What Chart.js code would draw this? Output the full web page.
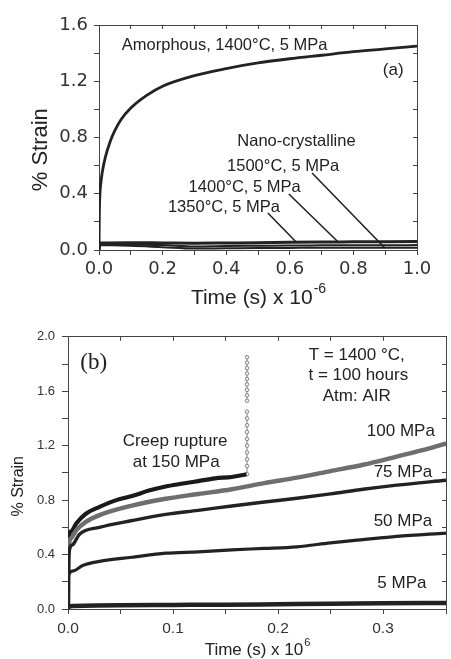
<!DOCTYPE html>
<html><head><meta charset="utf-8">
<script src="https://cdn.jsdelivr.net/npm/chart.js@4.4.1/dist/chart.umd.min.js"></script>
<style>
html,body{margin:0;padding:0;background:#fff;width:451px;height:659px;overflow:hidden}
canvas{position:absolute;left:0}
#c1{top:0}
#c2{top:322px}
</style></head><body>
<canvas id="c1" width="451" height="320"></canvas>
<canvas id="c2" width="451" height="337"></canvas>
<script>
// ---------- Panel (a) data ----------
const aTime      = [0, 0.001, 0.003, 0.006, 0.01, 0.02, 0.035, 0.05, 0.07, 0.1, 0.15, 0.2, 0.3, 0.4, 0.5, 0.6, 0.7, 0.8, 0.9, 1.0];
const aAmorphous = [0, 0.25, 0.40, 0.48, 0.55, 0.66, 0.77, 0.85, 0.93, 1.01, 1.10, 1.165, 1.24, 1.29, 1.33, 1.36, 1.385, 1.41, 1.43, 1.45];
const nTime  = [0, 0.003, 0.1, 0.2, 0.3, 0.4, 0.5, 0.6, 0.7, 0.8, 0.9, 1.0];
const n1500  = [0, 0.05, 0.052, 0.05, 0.048, 0.05, 0.052, 0.055, 0.057, 0.058, 0.059, 0.06];
const n1400  = [0, 0.04, 0.04, 0.035, 0.025, 0.028, 0.03, 0.032, 0.033, 0.034, 0.034, 0.035];
const n1350  = [0, 0.035, 0.03, 0.02, 0.01, 0.012, 0.014, 0.015, 0.016, 0.016, 0.016, 0.016];
// leader lines [x1, y1, x2, y2] in data units
const aLeaders = [[0.670, 0.548, 0.899, 0.014], [0.597, 0.398, 0.752, 0.057], [0.531, 0.263, 0.623, 0.050]];
const aXTicks = [0.0, 0.2, 0.4, 0.6, 0.8, 1.0];
const aYTicks = [0.0, 0.4, 0.8, 1.2, 1.6];

// ---------- Panel (b) data ----------
const t150 = [0, 0.0005, 0.003, 0.008, 0.017, 0.030, 0.046, 0.061, 0.077, 0.093, 0.108, 0.124, 0.140, 0.156, 0.170];
const s150 = [0, 0.50, 0.57, 0.63, 0.70, 0.75, 0.80, 0.83, 0.87, 0.90, 0.92, 0.94, 0.96, 0.97, 0.99];
const tRupture = 0.1705;
const sRupture = [0.99, 1.05, 1.1, 1.15, 1.2, 1.25, 1.3, 1.35, 1.4, 1.45, null, 1.53, 1.57, 1.61, 1.65, 1.69, 1.73, 1.77, 1.81, 1.85];
const t100 = [0, 0.0005, 0.003, 0.008, 0.017, 0.030, 0.061, 0.093, 0.124, 0.156, 0.187, 0.218, 0.250, 0.281, 0.313, 0.344, 0.36];
const s100 = [0, 0.43, 0.52, 0.58, 0.64, 0.69, 0.76, 0.81, 0.845, 0.88, 0.925, 0.965, 1.013, 1.06, 1.12, 1.18, 1.217];
const t75  = [0, 0.0005, 0.004, 0.011, 0.030, 0.061, 0.093, 0.124, 0.156, 0.187, 0.218, 0.250, 0.281, 0.313, 0.36];
const s75  = [0, 0.38, 0.47, 0.55, 0.60, 0.65, 0.695, 0.725, 0.757, 0.786, 0.814, 0.846, 0.88, 0.91, 0.946];
const t50  = [0, 0.0005, 0.005, 0.014, 0.030, 0.061, 0.093, 0.124, 0.156, 0.187, 0.218, 0.250, 0.281, 0.313, 0.36];
const s50  = [0, 0.25, 0.28, 0.32, 0.35, 0.38, 0.41, 0.42, 0.435, 0.445, 0.457, 0.486, 0.51, 0.534, 0.558];
const t5   = [0, 0.001, 0.05, 0.1, 0.15, 0.2, 0.25, 0.3, 0.36];
const s5   = [0, 0.02, 0.028, 0.03, 0.032, 0.035, 0.038, 0.042, 0.045];
const bXTicks = [0.0, 0.1, 0.2, 0.3];
const bYTicks = [0.0, 0.4, 0.8, 1.2, 1.6, 2.0];

// ---------- helpers ----------
const SANS = '"Liberation Sans", Arial, Helvetica, sans-serif';
const SERIF = '"Liberation Serif", "Times New Roman", serif';
const INK = '#222';
const FRAME = '#444';
const pts = (xs, ys) => xs.map((x, i) => ({x, y: ys[i]}));
const isTick = (list) => (v) => list.some(t => Math.abs(t - v) < 1e-6);

const notesPlugin = {
  id: 'notes',
  afterDatasetsDraw(chart, args, opts) {
    const {ctx, scales: {x, y}, chartArea} = chart;
    ctx.save();
    ctx.fillStyle = INK;
    ctx.textAlign = 'center';
    ctx.textBaseline = 'middle';
    for (const n of opts.items) {
      ctx.font = n.font;
      ctx.fillText(n.text, x.getPixelForValue(n.x), y.getPixelForValue(n.y));
    }
    const t = opts.xTitle;
    if (t) {
      ctx.textAlign = 'left';
      ctx.font = t.size + 'px ' + SANS;
      const w1 = ctx.measureText(t.main).width;
      ctx.font = t.supSize + 'px ' + SANS;
      const w2 = ctx.measureText(t.sup).width;
      const cx = (chartArea.left + chartArea.right) / 2 + (t.dx || 0);
      const x0 = cx - (w1 + w2) / 2;
      const yy = chartArea.bottom + t.offset;
      ctx.font = t.size + 'px ' + SANS;
      ctx.fillText(t.main, x0, yy);
      ctx.font = t.supSize + 'px ' + SANS;
      ctx.fillText(t.sup, x0 + w1 + 1, yy - t.rise);
    }
    ctx.restore();
  }
};

function frameAxes(min, max, step, pos, len) {
  return {
    type: 'linear', position: pos, min, max,
    ticks: {display: false, stepSize: step},
    grid: {display: true, drawOnChartArea: false, drawTicks: true, tickLength: -len, color: FRAME},
    border: {display: true, color: FRAME, width: 1},
    afterFit: (s) => { if (pos === 'top') s.height = 0; else s.width = 0; }
  };
}

// ---------- Panel (a) ----------
const lineA = (data, w) => ({data, borderColor: INK, borderWidth: w, pointRadius: 0, cubicInterpolationMode: 'monotone', fill: false});
const dsA = [
  lineA(pts(nTime, n1350), 2),
  lineA(pts(nTime, n1400), 2),
  lineA(pts(nTime, n1500), 3),
  lineA(pts(aTime, aAmorphous), 2.8),
  ...aLeaders.map(l => ({data: [{x: l[0], y: l[1]}, {x: l[2], y: l[3]}], borderColor: INK, borderWidth: 1.6, pointRadius: 0, tension: 0}))
];

new Chart(document.getElementById('c1'), {
  type: 'line',
  data: {datasets: dsA},
  plugins: [notesPlugin],
  options: {
    responsive: false, animation: false, events: [],
    layout: {padding: {top: 25, right: 34, left: 0, bottom: 0}},
    plugins: {
      legend: {display: false}, tooltip: {enabled: false},
      notes: {
        items: [
          {text: 'Amorphous, 1400°C, 5 MPa', x: 0.395, y: 1.458, font: '16.5px ' + SANS},
          {text: '(a)', x: 0.925, y: 1.28, font: '17px ' + SANS},
          {text: 'Nano-crystalline', x: 0.621, y: 0.775, font: '16.5px ' + SANS},
          {text: '1500°C, 5 MPa', x: 0.579, y: 0.597, font: '16.5px ' + SANS},
          {text: '1400°C, 5 MPa', x: 0.458, y: 0.448, font: '16.5px ' + SANS},
          {text: '1350°C, 5 MPa', x: 0.393, y: 0.306, font: '16.5px ' + SANS}
        ],
        xTitle: {main: 'Time (s) x 10', sup: '-6', size: 21, supSize: 14, rise: 9, offset: 48}
      }
    },
    scales: {
      x: {
        type: 'linear', position: 'bottom', min: 0, max: 1,
        ticks: {stepSize: 0.1, autoSkip: false, maxRotation: 0, padding: 4, color: '#333',
          font: {family: '"DejaVu Sans", sans-serif', size: 18},
          callback: (v) => isTick(aXTicks)(v) ? v.toFixed(1) : ''},
        grid: {drawOnChartArea: false, tickLength: 5, color: FRAME},
        border: {color: FRAME, width: 1},
        afterFit: (s) => { s.height = 70; }
      },
      y: {
        type: 'linear', position: 'left', min: 0, max: 1.6,
        ticks: {stepSize: 0.2, autoSkip: false, padding: 6, color: '#333',
          font: {family: '"DejaVu Sans", sans-serif', size: 18},
          callback: (v) => isTick(aYTicks)(v) ? v.toFixed(1) : ''},
        grid: {drawOnChartArea: false, tickLength: 5, color: FRAME},
        border: {color: FRAME, width: 1},
        title: {display: true, text: '% Strain    ', color: INK, font: {family: SANS, size: 22}, padding: {top: 28, bottom: 0}},
        afterFit: (s) => { s.width = 99; }
      },
      x2: frameAxes(0, 1, 0.1, 'top', 4),
      y2: frameAxes(0, 1.6, 0.2, 'right', 4)
    }
  }
});

// ---------- Panel (b) ----------
const lineB = (data, color, w, dash) => ({data, borderColor: color, borderWidth: w, borderDash: dash || [], pointRadius: 0, cubicInterpolationMode: 'monotone', fill: false, spanGaps: false});
const d150 = pts(t150, s150), d100 = pts(t100, s100);
const dsB = [
  lineB(pts(t5, s5), INK, 4.5),
  lineB(pts(t50, s50), INK, 3.2),
  lineB(pts(t75, s75), INK, 3.4),
  lineB(d100, '#6e6e6e', 4.4),
  lineB(d100, '#e2e2e2', 1.6, [1.5, 2.5]),
  lineB(d150, '#1a1a1a', 4.2),
  lineB(d150, '#999', 1.2, [2, 3]),
  {data: sRupture.map(v => ({x: tRupture, y: v})), borderColor: '#aaa', borderWidth: 1.5, pointRadius: 1.8,
   pointBorderColor: '#888', pointBackgroundColor: '#eee', pointBorderWidth: 1, spanGaps: false, tension: 0}
];

new Chart(document.getElementById('c2'), {
  type: 'line',
  data: {datasets: dsB},
  plugins: [notesPlugin],
  options: {
    responsive: false, animation: false, events: [],
    layout: {padding: {top: 10, right: 1, left: 0, bottom: 0}},
    plugins: {
      legend: {display: false}, tooltip: {enabled: false},
      notes: {
        items: [
          {text: '(b)', x: 0.0245, y: 1.809, font: '23px ' + SERIF},
          {text: 'T = 1400 °C,', x: 0.275, y: 1.867, font: '17px ' + SANS},
          {text: 't = 100 hours', x: 0.2765, y: 1.715, font: '17px ' + SANS},
          {text: 'Atm: AIR', x: 0.275, y: 1.564, font: '17px ' + SANS},
          {text: '100 MPa', x: 0.317, y: 1.3045, font: '17px ' + SANS},
          {text: 'Creep rupture', x: 0.102, y: 1.232, font: '17px ' + SANS},
          {text: 'at 150 MPa', x: 0.103, y: 1.081, font: '17px ' + SANS},
          {text: '75 MPa', x: 0.319, y: 1.002, font: '17px ' + SANS},
          {text: '50 MPa', x: 0.319, y: 0.641, font: '17px ' + SANS},
          {text: '5 MPa', x: 0.318, y: 0.187, font: '17px ' + SANS}
        ],
        xTitle: {main: 'Time (s) x 10', sup: '6', size: 17, supSize: 11, rise: 7, offset: 41}
      }
    },
    scales: {
      x: {
        type: 'linear', position: 'bottom', min: 0, max: 0.36,
        ticks: {stepSize: 0.05, autoSkip: false, maxRotation: 0, padding: 5, color: '#333',
          font: {family: SANS, size: 15.5},
          callback: (v) => isTick(bXTicks)(v) ? v.toFixed(1) : ''},
        grid: {drawOnChartArea: false, tickLength: 5, color: FRAME},
        border: {color: FRAME, width: 1},
        afterFit: (s) => { s.height = 50; }
      },
      y: {
        type: 'linear', position: 'left', min: 0, max: 2.0,
        ticks: {stepSize: 0.2, autoSkip: false, padding: 7, color: '#333',
          font: {family: SANS, size: 13},
          callback: (v) => isTick(bYTicks)(v) ? v.toFixed(1) : ''},
        grid: {drawOnChartArea: false, tickLength: 6, color: FRAME},
        border: {color: FRAME, width: 1},
        title: {display: true, text: '% Strain      ', color: INK, font: {family: SANS, size: 16}, padding: {top: 9, bottom: 0}},
        afterFit: (s) => { s.width = 68; }
      },
      x2: frameAxes(0, 0.36, 0.05, 'top', 4),
      y2: frameAxes(0, 2.0, 0.2, 'right', 4)
    }
  }
});
</script>
</body></html>
